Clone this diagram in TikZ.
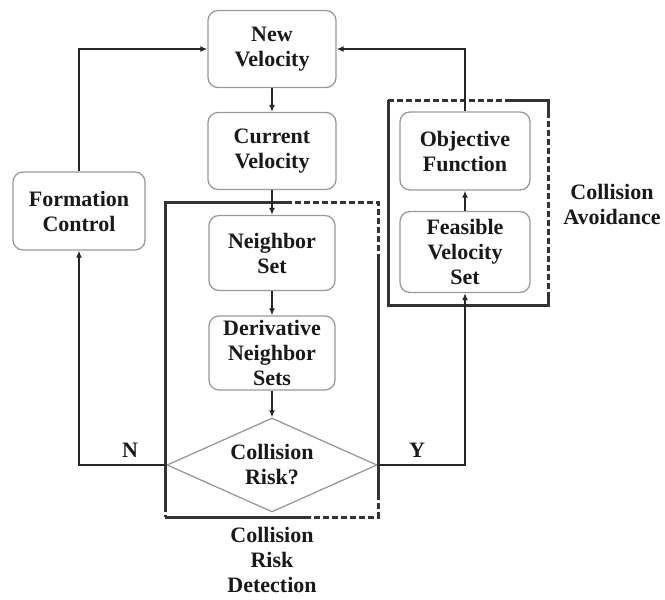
\documentclass[tikz,border=0pt]{standalone}
\usepackage{fontspec}
\setmainfont{Liberation Serif}
\usetikzlibrary{shapes.geometric,arrows.meta}
\begin{document}
\begin{tikzpicture}[x=1pt,y=-1pt,
 box/.style={draw=black!40, line width=1.3pt, rounded corners=10pt, minimum width=128pt, minimum height=77pt, align=center, font=\fontsize{22}{25}\selectfont\bfseries, text=black!90, inner sep=0pt},
 lbl/.style={align=center, font=\fontsize{22}{25}\selectfont\bfseries, text=black!90},
 conn/.style={draw=black!85, line width=2pt},
 arr/.style={conn, -{Latex[length=7pt,width=6pt]}},
 frame/.style={draw=black!80, line width=3pt},
 dframe/.style={frame, dash pattern=on 6pt off 3pt}]
\useasboundingbox (0,0) rectangle (665,600);
% nodes
\node[box] (nv) at (272,49) {New\\Velocity};
\node[box] (cv) at (272,151) {Current\\Velocity};
\node[box, minimum width=126pt, minimum height=75pt] (ns) at (272,253) {Neighbor\\Set};
\node[box, minimum width=126pt, minimum height=74pt] (dn) at (272,353) {Derivative\\Neighbor\\Sets};
\node[diamond, draw=black!40, line width=1.3pt, aspect=2.2, inner sep=0pt, minimum width=210pt, minimum height=94pt, align=center, font=\fontsize{22}{25}\selectfont\bfseries, text=black!90] (cr) at (272,465) {Collision\\Risk?};
\node[box, minimum width=132pt, minimum height=78pt] (fc) at (79,211) {Formation\\Control};
\node[box, minimum width=130pt, minimum height=78pt] (of) at (465,151) {Objective\\Function};
\node[box, minimum width=130pt, minimum height=81pt] (fv) at (465,252) {Feasible\\Velocity\\Set};
% labels
\node[lbl] (ca) at (612,204) {Collision\\Avoidance};
\node[lbl] (crd) at (272,560) {Collision\\Risk\\Detection};
\node[lbl] (nlab) at (130,450) {N};
\node[lbl] (ylab) at (417,450) {Y};
% frames: collision risk detection
\draw[frame] (290,202) -- (165,202) -- (165,506);
\draw[dframe] (165,506) -- (165,517);
\draw[frame] (165,517) -- (305,517);
\draw[dframe] (305,517) -- (378,517) -- (378,500);
\draw[frame] (378,500) -- (378,260);
\draw[dframe] (378,260) -- (378,202) -- (290,202);
% frames: collision avoidance
\draw[dframe] (388,100) -- (507,100);
\draw[frame] (507,100) -- (548,100) -- (548,112);
\draw[dframe] (548,112) -- (548,294);
\draw[frame] (548,294) -- (548,305) -- (388,305) -- (388,100);
% connectors
\draw[arr] (nv) -- (cv);
\draw[arr] (cv) -- (ns);
\draw[arr] (ns) -- (dn);
\draw[arr] (dn) -- (cr);
\draw[arr] (cr.west) -| (fc.south);
\draw[arr] (fc.north) |- (nv.west);
\draw[arr] (cr.east) -| (fv.south);
\draw[arr] (fv) -- (of);
\draw[arr] (of.north) |- (nv.east);
\end{tikzpicture}
\end{document}
